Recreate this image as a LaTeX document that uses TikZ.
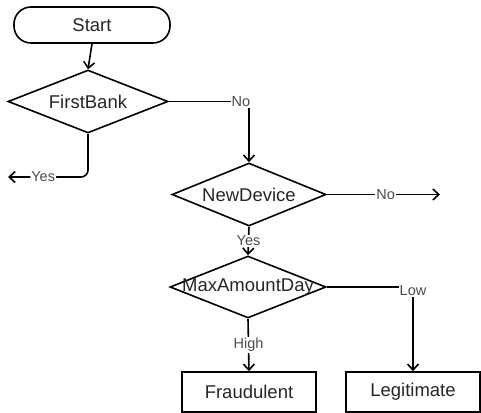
\documentclass[tikz,border=0pt]{standalone}
\usepackage{fontspec}
\setmainfont{Liberation Sans}
\usetikzlibrary{shapes.geometric,arrows.meta}
\begin{document}
\begin{tikzpicture}[x=1pt,y=-1pt,
  line width=1.6pt,
  main/.style={font=\fontsize{18.5}{21}\selectfont,text=black!85},
  dec/.style={draw,shape=diamond,inner sep=0pt,aspect=1},
  box/.style={draw,rectangle,main,minimum width=134pt,minimum height=40pt,inner sep=0pt},
  lbl/.style={fill=white,inner sep=1pt,text=black!70,font=\fontsize{14.5}{16}\selectfont},
  arr/.style={-{Straight Barb[length=6pt,width=11pt,line width=1.6pt]}}]
\useasboundingbox (0,0) rectangle (481,412);
\node[draw,rectangle,rounded corners=17pt,minimum width=156pt,minimum height=36pt,main] (start) at (92,25) {Start};
\node[dec,minimum width=160pt,minimum height=63pt,label={[main]center:FirstBank}] (fb) at (88,101.5) {};
\node[dec,minimum width=154pt,minimum height=63pt,label={[main]center:NewDevice}] (nd) at (249,194.5) {};
\node[dec,minimum width=156pt,minimum height=62pt,label={[main]center:MaxAmountDay}] (mad) at (248,287) {};
\node[box] (fraud) at (249,392) {Fraudulent};
\node[box] (legit) at (413,392) {Legitimate};
\coordinate (yesend) at (8,177);
\coordinate (noend) at (440,194.5);
\draw[arr] (start.south) -- (fb.north);
\draw[arr] (fb.east) -| node[lbl,pos=0.45]{No} (nd.north);
\draw[arr,rounded corners=7pt] (fb.south) |- node[lbl,pos=0.78]{Yes} (yesend);
\draw[arr] (nd.east) -- node[lbl,pos=0.52]{No} (noend);
\draw[arr] (nd.south) -- node[lbl,pos=0.5]{Yes} (mad.north);
\draw[arr] (mad.south) -- node[lbl,pos=0.5]{High} (fraud.north);
\draw[arr] (mad.east) -| node[lbl,pos=0.5,yshift=-4pt]{Low} (legit.north);
\end{tikzpicture}
\end{document}
